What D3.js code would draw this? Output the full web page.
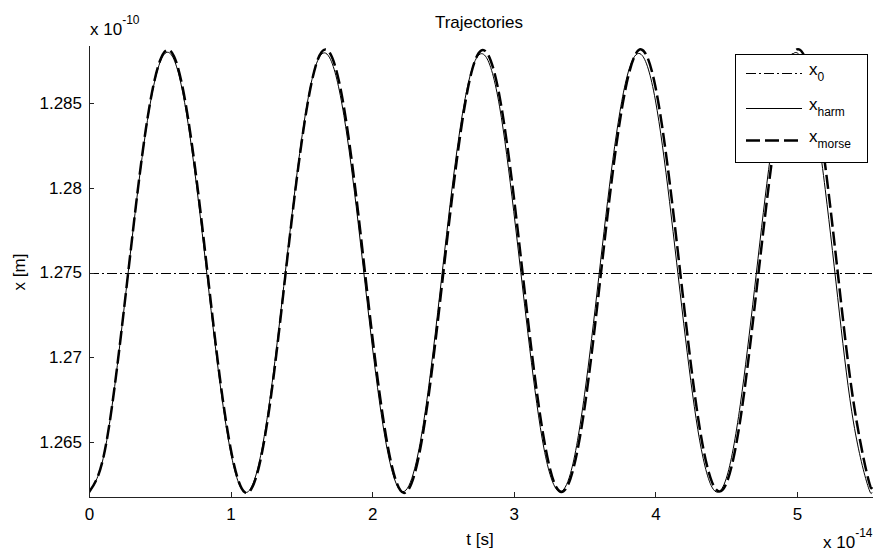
<!DOCTYPE html>
<html>
<head>
<meta charset="utf-8">
<script src="https://cdn.jsdelivr.net/npm/d3@7"></script>
<style>
body { margin: 0; background: #fff; }
svg text { font-family: "Liberation Sans", Arial, sans-serif; fill: #000; }
</style>
</head>
<body>
<div id="chart"></div>
<script>
// time axis, in units of 1e-14 s
var tValues = [0, 0.1, 0.2, 0.3, 0.4, 0.5, 0.6, 0.7, 0.8, 0.9,
  1.0, 1.1, 1.2, 1.3, 1.4, 1.5, 1.6, 1.7, 1.8, 1.9,
  2.0, 2.1, 2.2, 2.3, 2.4, 2.5, 2.6, 2.7, 2.8, 2.9,
  3.0, 3.1, 3.2, 3.3, 3.4, 3.5, 3.6, 3.7, 3.8, 3.9,
  4.0, 4.1, 4.2, 4.3, 4.4, 4.5, 4.6, 4.7, 4.8, 4.9,
  5.0, 5.1, 5.2, 5.3, 5.4, 5.5, 5.53];

// positions, in units of 1e-10 m
var xHarm = [1.2620, 1.2640, 1.2695, 1.2767, 1.2833, 1.2874, 1.2876, 1.2838, 1.2773, 1.2701,
  1.2644, 1.2620, 1.2637, 1.2689, 1.2760, 1.2828, 1.2872, 1.2877, 1.2843, 1.2780,
  1.2707, 1.2648, 1.2621, 1.2634, 1.2683, 1.2754, 1.2823, 1.2869, 1.2878, 1.2848,
  1.2786, 1.2714, 1.2652, 1.2622, 1.2631, 1.2678, 1.2747, 1.2817, 1.2866, 1.2879,
  1.2852, 1.2792, 1.2720, 1.2657, 1.2623, 1.2628, 1.2672, 1.2740, 1.2811, 1.2863,
  1.2880, 1.2856, 1.2799, 1.2726, 1.2661, 1.2624, 1.2620];

var xMorse = [1.2620, 1.2640, 1.2695, 1.2767, 1.2834, 1.2875, 1.2878, 1.2841, 1.2777, 1.2704,
  1.2646, 1.2620, 1.2635, 1.2686, 1.2758, 1.2826, 1.2872, 1.2880, 1.2848, 1.2786,
  1.2713, 1.2652, 1.2621, 1.2631, 1.2678, 1.2748, 1.2818, 1.2868, 1.2881, 1.2854,
  1.2795, 1.2722, 1.2658, 1.2623, 1.2628, 1.2670, 1.2738, 1.2810, 1.2863, 1.2882,
  1.2860, 1.2804, 1.2732, 1.2665, 1.2626, 1.2625, 1.2663, 1.2729, 1.2801, 1.2858,
  1.2882, 1.2865, 1.2813, 1.2741, 1.2673, 1.2629, 1.2623];

var x0Value = 1.275;
var tDomain = [0, 5.53];
var xDomain = [1.26172, 1.28846];
var tTicks = [0, 1, 2, 3, 4, 5];
var xTicks = [1.265, 1.27, 1.275, 1.28, 1.285];
var xTickLabels = ["1.265", "1.27", "1.275", "1.28", "1.285"];
var legendNames = ["0", "harm", "morse"];

var width = 873, height = 552;
var plotLeft = 89, plotRight = 872, plotTop = 45, plotBottom = 497;

var svg = d3.select('#chart')
  .append('svg')
  .attr('width', width)
  .attr('height', height);

var xScale = d3.scaleLinear().domain(tDomain).range([plotLeft, plotRight]);
var yScale = d3.scaleLinear().domain(xDomain).range([plotBottom, plotTop]);

svg.append('clipPath').attr('id', 'plot-area')
  .append('rect')
  .attr('x', plotLeft).attr('y', plotTop - 2)
  .attr('width', plotRight - plotLeft + 2).attr('height', plotBottom - plotTop + 4);

var styles = [
  {width: 1, dash: '10,3,2,3'},
  {width: 1, dash: null},
  {width: 2.5, dash: '14,5'}
];

var plot = svg.append('g').attr('clip-path', 'url(#plot-area)');

// reference line x0
plot.append('line')
  .attr('x1', xScale(tDomain[0])).attr('x2', xScale(tDomain[1]))
  .attr('y1', Math.round(yScale(x0Value)) + 0.5).attr('y2', Math.round(yScale(x0Value)) + 0.5)
  .attr('stroke', '#000')
  .attr('stroke-width', styles[0].width)
  .attr('stroke-dasharray', styles[0].dash);

var line = d3.line()
  .x(function(d, i) { return xScale(tValues[i]); })
  .y(function(d) { return yScale(d); })
  .curve(d3.curveNatural);

plot.append('path')
  .attr('d', line(xHarm))
  .attr('fill', 'none')
  .attr('stroke', '#000')
  .attr('stroke-width', styles[1].width);

plot.append('path')
  .attr('d', line(xMorse))
  .attr('fill', 'none')
  .attr('stroke', '#000')
  .attr('stroke-width', styles[2].width)
  .attr('stroke-dasharray', styles[2].dash);

// axes, ticks point inward like matlab
svg.append('g')
  .attr('transform', 'translate(0,' + plotBottom + ')')
  .call(d3.axisBottom(xScale).tickValues(tTicks).tickFormat(d3.format('d'))
    .tickSizeInner(-5).tickSizeOuter(0).tickPadding(11));

svg.append('g')
  .attr('transform', 'translate(' + plotLeft + ',0)')
  .call(d3.axisLeft(yScale).tickValues(xTicks)
    .tickFormat(function(d, i) { return xTickLabels[i]; })
    .tickSizeInner(-5).tickSizeOuter(0).tickPadding(7));

svg.selectAll('.tick text').attr('font-size', 17).attr('font-family', null);
svg.selectAll('.domain, .tick line').attr('stroke', '#222').attr('shape-rendering', 'crispEdges');

// title and labels
svg.append('text')
  .attr('x', 479).attr('y', 28)
  .attr('text-anchor', 'middle')
  .attr('font-size', 17)
  .text('Trajectories');

svg.append('text')
  .attr('x', 480).attr('y', 545)
  .attr('text-anchor', 'middle')
  .attr('font-size', 17)
  .text('t [s]');

svg.append('text')
  .attr('transform', 'translate(25,272) rotate(-90)')
  .attr('text-anchor', 'middle')
  .attr('font-size', 17)
  .text('x [m]');

function exponent(x, y, power) {
  var t = svg.append('text').attr('x', x).attr('y', y).attr('font-size', 17);
  t.append('tspan').text('x 10');
  t.append('tspan').attr('dy', -11).attr('font-size', 12).text(power);
}
exponent(90, 35, '-10');
exponent(823, 548, '-14');

// legend
var legend = svg.append('g').attr('transform', 'translate(735,54)');
legend.append('rect')
  .attr('x', 0.5).attr('y', 0.5)
  .attr('width', 132).attr('height', 108)
  .attr('fill', '#fff')
  .attr('stroke', '#000');

var rows = legend.selectAll('g.row')
  .data(legendNames)
  .enter().append('g')
  .attr('class', 'row')
  .attr('transform', function(d, i) { return 'translate(0,' + [19, 54, 86][i] + ')'; });

rows.append('line')
  .attr('x1', 11).attr('x2', 67)
  .attr('y1', 0.5).attr('y2', 0.5)
  .attr('stroke', '#000')
  .attr('stroke-width', function(d, i) { return styles[i].width; })
  .attr('stroke-dasharray', function(d, i) { return styles[i].dash; });

var labels = rows.append('text')
  .attr('x', 74).attr('y', 2)
  .attr('font-size', 17);
labels.append('tspan').text('x');
labels.append('tspan').attr('dy', 6).attr('font-size', 12).text(function(d) { return d; });
</script>
</body>
</html>
